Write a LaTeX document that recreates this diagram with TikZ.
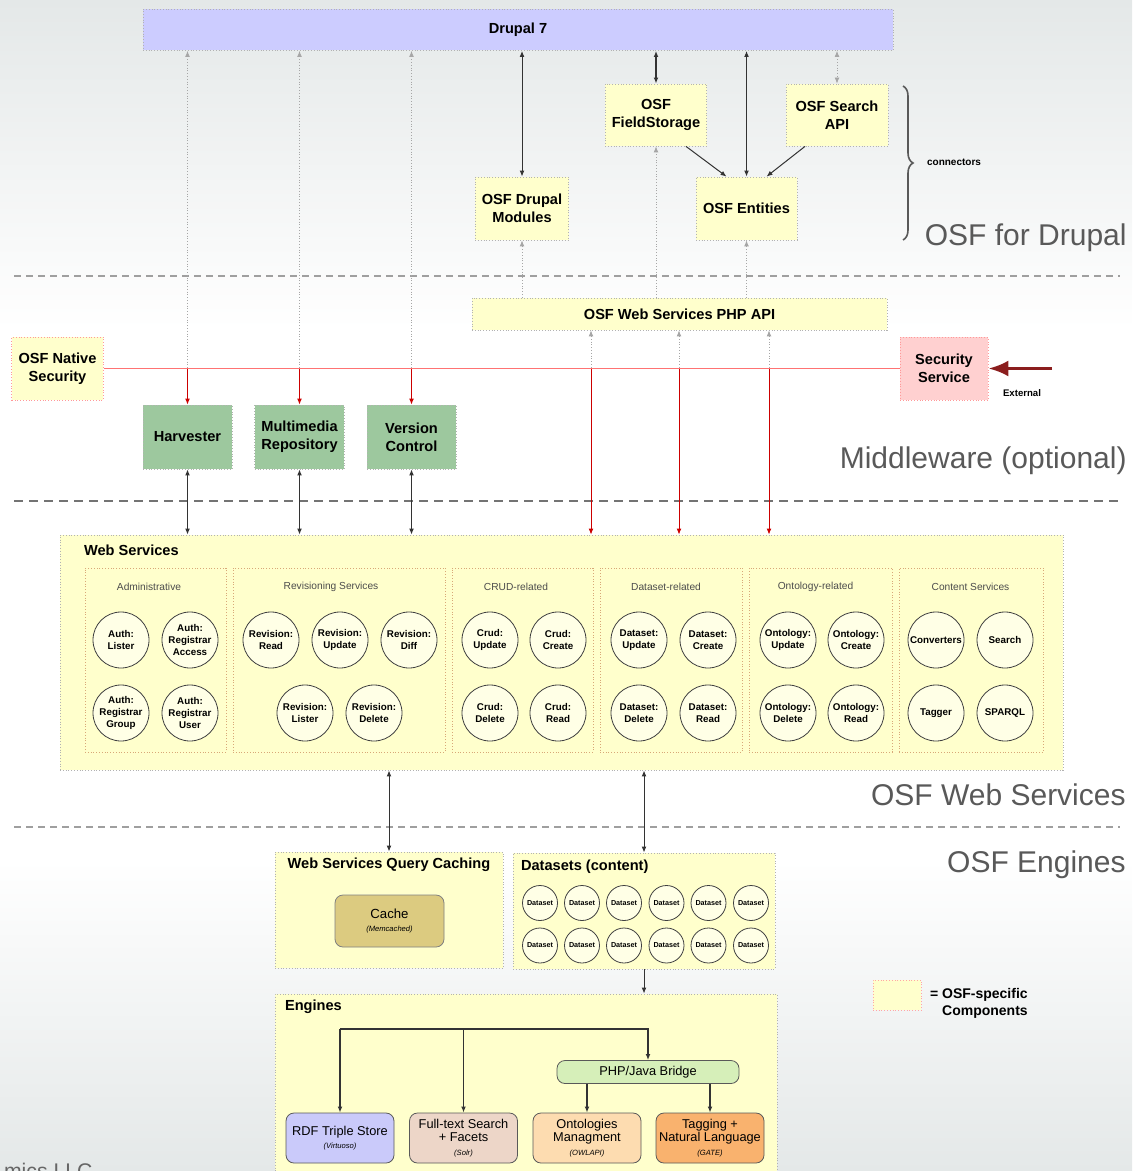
\documentclass[tikz,border=0pt]{standalone}
\usepackage{fontspec}
\setmainfont{Liberation Sans}
\usetikzlibrary{arrows.meta,decorations.pathreplacing}

\definecolor{drupalblue}{HTML}{CCCCFF}
\definecolor{osfyellow}{HTML}{FFFFCC}
\definecolor{mwgreen}{HTML}{9DC89E}
\definecolor{secpink}{HTML}{FFD0D0}
\definecolor{svcfill}{HTML}{FFFFE6}
\definecolor{grpedge}{HTML}{D8A878}
\definecolor{cachefill}{HTML}{DCCB80}
\definecolor{bridgefill}{HTML}{D6EFB9}
\definecolor{rdffill}{HTML}{CACAFA}
\definecolor{solrfill}{HTML}{EDD6C8}
\definecolor{owlfill}{HTML}{FDDCB0}
\definecolor{gatefill}{HTML}{F9B26E}
\definecolor{extred}{HTML}{8B1E1E}
\definecolor{bggray}{HTML}{E4E8E8}

\begin{document}
\begin{tikzpicture}[x=0.5pt, y=-0.5pt, >={Latex[length=3pt,width=2.4pt]},
  boxfont/.style={font=\bfseries\fontsize{7.3}{9}\selectfont},
  drupalbox/.style={draw=gray!60, densely dotted, fill=drupalblue, boxfont, align=center},
  osfbox/.style={draw=gray!60, densely dotted, fill=osfyellow, boxfont, align=center},
  greenbox/.style={draw=gray!60, densely dotted, fill=mwgreen, boxfont, align=center,
    minimum width=44.5pt, minimum height=32pt},
  secbox/.style={draw=red!40, densely dotted, fill=secpink, boxfont, align=center},
  grpbox/.style={draw=grpedge, densely dotted, minimum height=92pt},
  grptitle/.style={font=\fontsize{5.1}{6}\selectfont, text=black!70},
  svc/.style={circle, draw=black!75, fill=svcfill, minimum size=28pt, inner sep=0pt,
    font=\bfseries\fontsize{4.9}{6}\selectfont, align=center},
  ds/.style={circle, draw=black!75, fill=svcfill, minimum size=17.5pt, inner sep=0pt,
    font=\bfseries\fontsize{3.6}{4}\selectfont},
  engine/.style={draw=black!65, rounded corners=4pt, font=\fontsize{6.4}{6.6}\selectfont,
    align=center, minimum width=54pt, minimum height=25pt, inner sep=1pt},
  layer/.style={anchor=east, inner sep=0pt, font=\fontsize{15}{18}\selectfont, text=black!65},
  smalllbl/.style={font=\bfseries\fontsize{5}{6}\selectfont},
  dotline/.style={densely dotted, draw=gray!70, line width=0.4pt},
  solidline/.style={draw=black!80, line width=0.5pt},
  redline/.style={draw=red!55, line width=0.45pt},
  redarrow/.style={draw=red!80!black, line width=0.45pt},
  treeline/.style={draw=black!80, line width=0.65pt},
  sepline/.style={draw=gray!75, line width=0.6pt, dash pattern=on 3.5pt off 2.5pt}]

  % page and background
  \useasboundingbox (0,0) rectangle (1132,1171);
  \shade[top color=bggray, bottom color=white] (0,0) rectangle (1132,330);
  \shade[top color=white, bottom color=bggray] (0,860) rectangle (1132,1171);

  % layer separators
  \draw[sepline] (14,276) -- (1120,276);
  \draw[sepline, draw=black!55, line width=1.3pt, dash pattern=on 4.5pt off 3pt] (14,501) -- (1120,501);
  \draw[sepline] (14,827) -- (1120,827);

  % OSF for Drupal
  \node[drupalbox, minimum width=375pt, minimum height=20.5pt] (drupal) at (518,30) {Drupal 7};
  \node[osfbox, minimum width=50.5pt, minimum height=31pt] (fieldstore) at (656,115) {OSF\\FieldStorage};
  \node[osfbox, minimum width=51pt, minimum height=31pt] (searchapi) at (837,115) {OSF Search\\API};
  \node[osfbox, minimum width=45pt, minimum height=31.5pt] (modules) at (522,208.5) {OSF Drupal\\Modules};
  \node[osfbox, minimum width=50.5pt, minimum height=31.5pt] (entities) at (746.5,208.5) {OSF Entities};
  \draw[draw=black!65, line width=0.8pt, decorate, decoration={brace, amplitude=5pt}] (903,86) -- (903,240);
  \node[smalllbl, anchor=west] (connlbl) at (920,162) {connectors};
  \node[layer] (lyrdrupal) at (1127,238) {OSF for Drupal};

  \draw[solidline, <->] (drupal.south -| modules.north) -- (modules.north);
  \draw[solidline, <->, line width=0.7pt] (drupal.south -| fieldstore.north) -- (fieldstore.north);
  \draw[solidline, <->] (drupal.south -| entities.north) -- (entities.north);
  \draw[dotline, <->] (drupal.south -| searchapi.north) -- (searchapi.north);
  \draw[solidline, ->] ([xshift=15pt]fieldstore.south) -- ([xshift=-10pt]entities.north);
  \draw[solidline, ->] ([xshift=-16pt]searchapi.south) -- ([xshift=10pt]entities.north);

  % Middleware
  \node[osfbox, minimum width=207.5pt, minimum height=16pt] (phpapi) at (679.5,314) {OSF Web Services PHP API};
  \node[osfbox, draw=red!40, minimum width=44.5pt, minimum height=31.5pt] (nativesec) at (57.5,368.5) {OSF Native\\Security};
  \node[secbox, minimum width=44pt, minimum height=31.5pt] (secservice) at (944,368.5) {Security\\Service};
  \node[greenbox] (harvester) at (187.5,437) {Harvester};
  \node[greenbox] (multimedia) at (299.5,437) {Multimedia\\Repository};
  \node[greenbox] (version) at (411.5,437) {Version\\Control};
  \node[layer] (lyrmiddle) at (1127,461) {Middleware (optional)};

  \draw[dotline, ->] (phpapi.north -| modules.south) -- (modules.south);
  \draw[dotline, ->] (phpapi.north -| fieldstore.south) -- (fieldstore.south);
  \draw[dotline, ->] (phpapi.north -| entities.south) -- (entities.south);

  \draw[redline] (nativesec.east) -- (secservice.west);
  \coordinate (extsrc) at (1052,368.5);
  \draw[extred, line width=1.6pt, -{Latex[length=10pt,width=8pt]}] (extsrc) -- (secservice.east);
  \node[smalllbl, font=\bfseries\fontsize{4.8}{6}\selectfont] (extlbl) at (1022,393) {External};

  \draw[dotline, <-] (drupal.south -| harvester.north) -- (harvester.north |- nativesec.east);
  \draw[dotline, <-] (drupal.south -| multimedia.north) -- (multimedia.north |- nativesec.east);
  \draw[dotline, <-] (drupal.south -| version.north) -- (version.north |- nativesec.east);
  \draw[redarrow, ->] (harvester.north |- nativesec.east) -- (harvester.north);
  \draw[redarrow, ->] (multimedia.north |- nativesec.east) -- (multimedia.north);
  \draw[redarrow, ->] (version.north |- nativesec.east) -- (version.north);

  % OSF Web Services
  \node[osfbox, minimum width=501.5pt, minimum height=117.5pt] (websvc) at (561.5,652.5) {};
  \node[osfbox, draw=none, fill=none, anchor=west] (websvctitle) at (77,550) {Web Services};
  \node[layer] (lyrws) at (1126,795) {OSF Web Services};

  \node[grpbox, minimum width=70.5pt] (admin) at (155.5,660) {};
  \node[grpbox, minimum width=106pt] (revision) at (339,660) {};
  \node[grpbox, minimum width=70.5pt] (crud) at (522.5,660) {};
  \node[grpbox, minimum width=71pt] (dataset) at (671,660) {};
  \node[grpbox, minimum width=71.5pt] (ontology) at (820.5,660) {};
  \node[grpbox, minimum width=72pt] (content) at (971,660) {};
  \node[grptitle] (admintitle) at (149,587) {Administrative};
  \node[grptitle] (revisiontitle) at (331,587) {Revisioning Services};
  \node[grptitle] (crudtitle) at (516,587) {CRUD-related};
  \node[grptitle] (datasettitle) at (666,587) {Dataset-related};
  \node[grptitle] (ontologytitle) at (815.5,587) {Ontology-related};
  \node[grptitle] (contenttitle) at (970.5,587) {Content Services};

  \node[svc] (authlister) at (121,640) {Auth:\\Lister};
  \node[svc] (authaccess) at (190,640) {Auth:\\Registrar\\Access};
  \node[svc] (authgroup) at (121,713) {Auth:\\Registrar\\Group};
  \node[svc] (authuser) at (190,713) {Auth:\\Registrar\\User};
  \node[svc] (revread) at (271,640) {Revision:\\Read};
  \node[svc] (revupdate) at (340,640) {Revision:\\Update};
  \node[svc] (revdiff) at (409,640) {Revision:\\Diff};
  \node[svc] (revlister) at (305,713) {Revision:\\Lister};
  \node[svc] (revdelete) at (374,713) {Revision:\\Delete};
  \node[svc] (crudupdate) at (490,640) {Crud:\\Update};
  \node[svc] (crudcreate) at (558,640) {Crud:\\Create};
  \node[svc] (cruddelete) at (490,713) {Crud:\\Delete};
  \node[svc] (crudread) at (558,713) {Crud:\\Read};
  \node[svc] (dsupdate) at (639,640) {Dataset:\\Update};
  \node[svc] (dscreate) at (708,640) {Dataset:\\Create};
  \node[svc] (dsdelete) at (639,713) {Dataset:\\Delete};
  \node[svc] (dsread) at (708,713) {Dataset:\\Read};
  \node[svc] (ontupdate) at (788,640) {Ontology:\\Update};
  \node[svc] (ontcreate) at (856,640) {Ontology:\\Create};
  \node[svc] (ontdelete) at (788,713) {Ontology:\\Delete};
  \node[svc] (ontread) at (856,713) {Ontology:\\Read};
  \node[svc] (converters) at (936,640) {Converters};
  \node[svc] (search) at (1005,640) {Search};
  \node[svc] (tagger) at (936,713) {Tagger};
  \node[svc] (sparql) at (1005,713) {SPARQL};

  \draw[solidline, <->] (harvester.south) -- (websvc.north -| harvester.south);
  \draw[solidline, <->] (multimedia.south) -- (websvc.north -| multimedia.south);
  \draw[solidline, <->] (version.south) -- (websvc.north -| version.south);

  \coordinate (tap1) at (591,368.5);
  \coordinate (tap2) at (679,368.5);
  \coordinate (tap3) at (769,368.5);
  \draw[dotline, <-] (phpapi.south -| tap1) -- (tap1);
  \draw[dotline, <-] (phpapi.south -| tap2) -- (tap2);
  \draw[dotline, <-] (phpapi.south -| tap3) -- (tap3);
  \draw[redarrow, ->] (tap1) -- (websvc.north -| tap1);
  \draw[redarrow, ->] (tap2) -- (websvc.north -| tap2);
  \draw[redarrow, ->] (tap3) -- (websvc.north -| tap3);

  % OSF Engines
  \node[layer] (lyrengines) at (1126,865) {OSF Engines};
  \node[osfbox, minimum width=114pt, minimum height=58pt] (caching) at (389,910) {};
  \node[osfbox, draw=none, fill=none] (cachingtitle) at (389,865) {Web Services Query Caching};
  \node[draw=black!50, fill=cachefill, rounded corners=4pt, minimum width=54.5pt, minimum height=26pt,
    align=center, font=\fontsize{6.6}{6.8}\selectfont] (cache) at (389.5,921)
    {Cache\\[-0.5pt]{\itshape\fontsize{3.8}{4.2}\selectfont (Memcached)}};
  \node[osfbox, minimum width=131pt, minimum height=58pt] (datasets) at (644,911) {};
  \node[osfbox, draw=none, fill=none, anchor=west] (datasetstitle) at (514,867) {Datasets (content)};
  \node[ds] (ds1) at (540,903) {Dataset};
  \node[ds] (ds2) at (582,903) {Dataset};
  \node[ds] (ds3) at (624,903) {Dataset};
  \node[ds] (ds4) at (666.5,903) {Dataset};
  \node[ds] (ds5) at (708.5,903) {Dataset};
  \node[ds] (ds6) at (751,903) {Dataset};
  \node[ds] (ds7) at (540,945.5) {Dataset};
  \node[ds] (ds8) at (582,945.5) {Dataset};
  \node[ds] (ds9) at (624,945.5) {Dataset};
  \node[ds] (ds10) at (666.5,945.5) {Dataset};
  \node[ds] (ds11) at (708.5,945.5) {Dataset};
  \node[ds] (ds12) at (751,945.5) {Dataset};

  \draw[solidline, <->] (websvc.south -| caching.north) -- (caching.north);
  \draw[solidline, <->] (websvc.south -| datasets.north) -- (datasets.north);

  \node[osfbox, minimum width=251pt, minimum height=100pt] (engines) at (526,1094) {};
  \node[osfbox, draw=none, fill=none, anchor=west] (enginestitle) at (278,1007) {Engines};
  \draw[solidline, ->] (datasets.south) -- (engines.north -| datasets.south);

  \node[engine, fill=bridgefill, minimum width=91pt, minimum height=11.5pt] (bridge) at (648,1072) {PHP/Java Bridge};
  \node[engine, fill=rdffill] (rdf) at (340,1138) {RDF Triple Store\\{\itshape\fontsize{3.8}{4.2}\selectfont (Virtuoso)}};
  \node[engine, fill=solrfill] (solr) at (463.5,1138) {Full-text Search\\+ Facets\\{\itshape\fontsize{3.8}{4.2}\selectfont (Solr)}};
  \node[engine, fill=owlfill] (owl) at (587,1138) {Ontologies\\Managment\\{\itshape\fontsize{3.8}{4.2}\selectfont (OWLAPI)}};
  \node[engine, fill=gatefill] (gate) at (710,1138) {Tagging +\\Natural Language\\{\itshape\fontsize{3.8}{4.2}\selectfont (GATE)}};

  \coordinate (bus) at (341,1029);
  \draw[treeline, ->] (rdf.north |- bus) -| (bridge.north);
  \draw[treeline, ->] (rdf.north |- bus) -- (rdf.north);
  \draw[treeline, ->] (solr.north |- bus) -- (solr.north);
  \draw[treeline, ->] (bridge.south -| owl.north) -- (owl.north);
  \draw[treeline, ->] (bridge.south -| gate.north) -- (gate.north);

  % legend
  \node[osfbox, draw=red!35, minimum width=24pt, minimum height=15pt] (legendbox) at (897,995) {};
  \node[anchor=west, align=left, font=\bfseries\fontsize{7}{8.5}\selectfont] (legendtext) at (923,1003)
    {= OSF-specific\\\phantom{= }Components};

  \node[anchor=base west, font=\fontsize{10.6}{12}\selectfont, text=black!60] (credit) at (-3,1178) {mics LLC};
\end{tikzpicture}
\end{document}
